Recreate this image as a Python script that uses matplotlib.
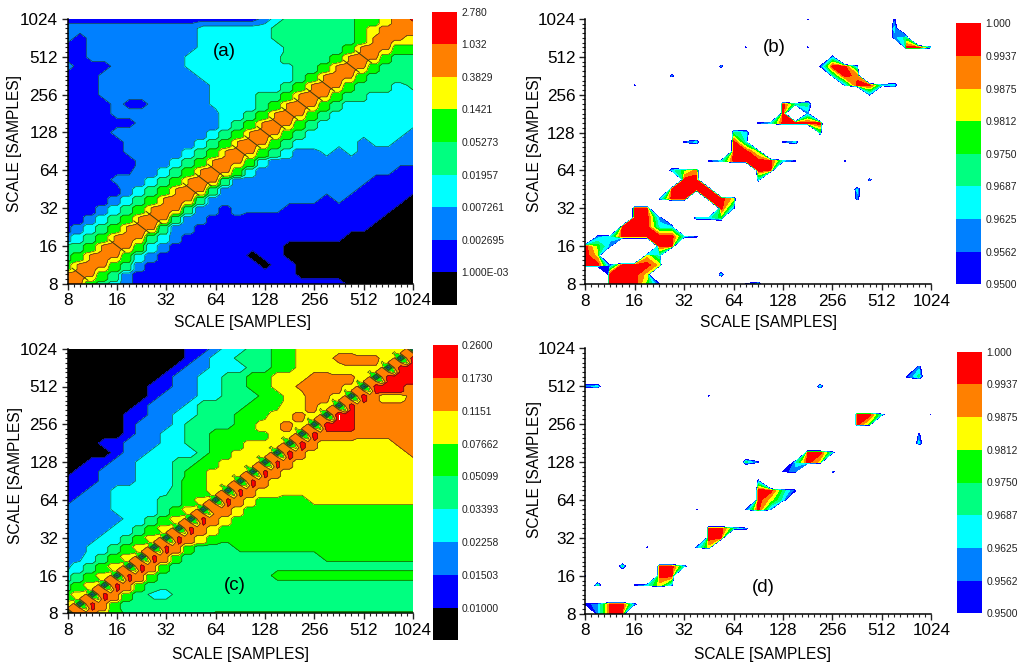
#!/usr/bin/env python3
"""Four scale-scale contour panels, (a) and (c) with level lines, (b) and (d) sparse."""
import numpy as np
import matplotlib
matplotlib.use('Agg')
import matplotlib.pyplot as plt

plt.rcParams['font.family'] = ['Liberation Sans', 'DejaVu Sans']

W, H = 1024, 672
TICKS = [8, 16, 32, 64, 128, 256, 512, 1024]
LABEL = 'SCALE [SAMPLES]'
COLORS_9 = ['#000000', '#0000FF', '#0080FF', '#00FFFF', '#00FF80',
            '#00FF00', '#FFFF00', '#FF8000', '#FF0000']
COLORS_8 = COLORS_9[1:]

A_LABELS = ['1.000E-03', '0.002695', '0.007261', '0.01957', '0.05273',
            '0.1421', '0.3829', '1.032', '2.780']
C_LABELS = ['0.01000', '0.01503', '0.02258', '0.03393', '0.05099',
            '0.07662', '0.1151', '0.1730', '0.2600']
R_LABELS = ['0.9500', '0.9562', '0.9625', '0.9687', '0.9750',
            '0.9812', '0.9875', '0.9937', '1.000']

# colour band per grid node, top row = scale 1024, left column = scale 8
A_ROWS = [
    "11111111111111112344444455678",
    "22222222222333333444444456777",
    "21222222222333333444444456766",
    "11222222222333333344444567655",
    "11222222223333333344445676544",
    "21112222223333333334456765444",
    "11122222222333333334567654444",
    "11122222222233333345676544434",
    "11122222222233334456765443333",
    "11112112222233334567654333333",
    "11112222222223345676543333333",
    "11111122222223456765433333333",
    "11112222222234567654333333332",
    "11111222222345676543333323322",
    "11111222223456765432232322222",
    "11111122234567653222222222222",
    "11111122345676532222222222211",
    "11112223456764222222222221111",
    "11111234567642222222222211111",
    "11112345676422222222212111110",
    "11123456764221222211111111100",
    "11234567642211111111111111000",
    "12345676422111111111111110000",
    "23456764321111111111111000000",
    "44567653211111111100000000000",
    "45676532111111101100000000000",
    "56765421111111110110000000000",
    "67654211111111111110000000000",
    "76543211111111111111111000000",
]
C_ROWS = [
    "00000000001123344556666666660",
    "00000000001233444556667777608",
    "00000000012233344556666666088",
    "00000000122334455666777760888",
    "00000001122334455667777608887",
    "00000001222334445566776087667",
    "00000012223444455566760877777",
    "00000112233444555667609877777",
    "00000122234444556676088877777",
    "00000122334455555660877777777",
    "00011222334455566608766666677",
    "00001223333455666087666666667",
    "00112233344556660r76666666666",
    "0112223334556660r766666666666",
    "111222333455660r7666666666666",
    "11223333345560r76666666666666",
    "1222333344560r765555666666666",
    "22223333456077655555555555555",
    "22222334560r76555555555555555",
    "2222334560r765555555555555555",
    "222334560r7655555555555555555",
    "22334560r75444555555555555555",
    "2234560r754444444444455555555",
    "234560r7544444444444444444444",
    "34560r75444444444555555555555",
    "4560r754444444444444444444444",
    "560r7543344444444444444444444",
    "60r75444444444444444444444444",
    "777654444444aaaaaaaaaaaaaaaaa",
]
# band value of each letter of the rows above
A_VALUES = {'0': 0, '1': 1, '2': 2, '3': 3, '4': 4, '5': 5, '6': 6, '7': 7, '8': 8}
C_VALUES = {'0': 0, '1': 1, '2': 2, '3': 3, '4': 4, '5': 5, '6': 6, '7': 7, '8': 8,
            '9': 8.7, 'a': 4.6, 'r': 7.8}

# (a): ridge height per grid step, and the nodes where a thin line cuts the ridge
A_RIDGE = [7, 7, 7, 7, 7, 7, 7, 7, 7, 7, 7, 7, 7, 7,
           7, 7, 7, 7, 7, 7, 7, 7, 7, 7, 7, 7, 7, 7]
A_PINCH = [1, 4, 6, 7, 10, 11, 12, 14, 15, 16, 17, 18, 19, 20, 21, 23, 24]

# lens shaped minima along the diagonal of (c), one per grid node
C_BEAD_CENTER = [0.3, 0.3, 0.3, 0.3, 0.3, 0.3, 0.3, 0.3, 0.3, 0.3, 0.3, 0.3, 0.3, 0.3, 0.3,
                 0.3, 0.3, 0.3, 0.3, 0.3, 0.3, 0.3, 0.3, 0.3, 0.3, 0.3, 0.3, 0.3, 0.3]
C_BEAD_RIM = [6.6, 6.6, 6.6, 6.6, 6.6, 6.6, 6.6, 6.6, 6.6, 6.6, 6.6, 6.6, 6.6, 6.6, 6.6,
              6.6, 6.6, 6.6, 6.6, 6.6, 6.6, 6.6, 6.6, 6.6, 6.6, 6.6, 6.6, 6.6, 6.6]
C_BEAD_TIP = [5.2, 5.2, 5.2, 5.2, 5.2, 5.2, 5.2, 5.2, 5.2, 5.2, 5.2, 5.2, 5.2, 5.2, 5.2,
              5.2, 5.2, 5.2, 5.2, 5.2, 5.2, 5.2, 5.2, 5.2, 5.2, 5.2, 5.2, 5.2, 5.2]

# (b), (d): row -> {column: band}; anything not listed is far below 0.95
BELOW = -40
SOFT_BELOW = -10
B_CELLS = {
    28: {18: 1, 25: 1},
    27: {25: 3},
    26: {25: 2, 26: 4},
    25: {13: 1, 18: 1, 26: 8, 27: 8, 28: 3},
    24: {20: 2},
    23: {11: 2, 19: 1, 20: 8, 21: 8, 22: 2},
    22: {7: 2, 20: 3, 21: 8, 22: 7},
    21: {4: 1, 21: 2, 22: 8, 23: 8, 24: 3, 25: 3},
    20: {23: 2},
    19: {16: 8, 17: 4, 18: 4},
    18: {16: 8, 18: 2},
    17: {14: 1, 15: 3, 16: 8, 17: 8, 18: 8, 19: 8},
    16: {12: 4, 13: 3, 19: 4},
    15: {8: 1, 9: 3, 12: 8, 13: 3, 16: 1, 17: 3},
    14: {12: 8, 13: 8, 14: 5},
    13: {10: 1, 11: 3, 12: 8, 13: 8, 14: 8, 15: 8, 16: 3, 17: 1, 21: 1},
    12: {7: 3, 8: 5, 9: 7, 14: 8, 15: 8},
    11: {8: 8, 9: 8, 14: 3, 23: 2},
    10: {7: 8, 8: 8, 9: 8, 10: 8, 22: 3},
    9: {6: 2, 7: 8, 8: 8, 10: 8, 11: 8, 12: 6, 22: 2},
    8: {4: 8, 5: 8, 11: 8, 12: 2},
    7: {4: 8, 5: 8, 6: 2, 9: 3, 10: 3, 11: 5},
    6: {3: 8, 4: 8, 5: 8, 6: 3, 7: 3},
    5: {1: 2, 2: 3, 3: 8, 4: 8, 5: 8, 6: 8, 7: 8, 8: 3, 9: 1},
    4: {0: 8, 1: 5, 2: 2, 6: 8, 7: 8},
    3: {0: 8, 1: 6, 5: 6, 6: 3},
    2: {0: 8, 1: 8, 2: 1, 3: 8, 4: 8, 5: 8, 6: 6},
    1: {2: 8, 3: 8, 4: 8, 5: 6, 11: 3},
    0: {2: 8, 3: 8, 4: 8, 5: 5, 6: 1, 13: 1, 14: 3},
}
D_CELLS = {
    26: {27: 2},
    25: {26: 1, 27: 4},
    24: {0: 2, 1: 3, 19: 3},
    23: {10: 1},
    21: {22: 8, 23: 8, 24: 3, 28: 1},
    20: {22: 8, 23: 5},
    19: {27: 1},
    18: {27: 3},
    17: {18: 8, 19: 8, 20: 3},
    16: {13: 4, 14: 1, 17: 3, 18: 8, 19: 6},
    15: {16: 1, 17: 2, 20: 2},
    14: {14: 2},
    13: {14: 8, 15: 8, 16: 4, 17: 1},
    12: {14: 8, 15: 6, 16: 3},
    11: {9: 1, 13: 1, 14: 8, 15: 2},
    9: {10: 8, 11: 8, 12: 4, 13: 2},
    8: {10: 8, 11: 8},
    7: {5: 1, 9: 2, 10: 6},
    5: {3: 4, 6: 8, 7: 8, 8: 3},
    4: {0: 1, 6: 8, 7: 8},
    3: {1: 4, 4: 1, 5: 3, 6: 6, 7: 2},
    1: {0: 1, 1: 2, 2: 8, 3: 8, 4: 2},
    0: {1: 2, 2: 8, 3: 8},
}


def px_axes(x0, y0, x1, y1):
    """Axes from pixel box, y counted from the top."""
    return fig.add_axes([x0 / W, 1 - y1 / H, (x1 - x0) / W, (y1 - y0) / H])


def from_rows(rows, values):
    return np.array([[values[c] for c in r] for r in rows[::-1]], dtype=float)


def from_cells(cells):
    z = np.full((29, 29), float(BELOW))
    around = [(1, 0), (-1, 0), (0, 1), (0, -1)]
    for j, row in cells.items():
        for i, v in row.items():
            if v > 5:
                continue
            for dj, di in around:
                jj, ii = j + dj, i + di
                if not (0 <= jj < 29 and 0 <= ii < 29):
                    continue
                # next to a strong cell the fall stays steep
                strong = any(cells.get(jj + a, {}).get(ii + b, 0) > 5
                             for a in (-1, 0, 1) for b in (-1, 0, 1))
                if not strong:
                    z[jj, ii] = SOFT_BELOW
    for j, row in cells.items():
        for i, v in row.items():
            z[j, i] = v
    return z


def refine(z, stair_band):
    """Twice the grid: averaged midpoints, but blocky within stair_band of the diagonal."""
    n = z.shape[0]
    f = np.zeros((2 * n - 1, 2 * n - 1))
    f[::2, ::2] = z
    f[1::2, ::2] = (z[:-1] + z[1:]) / 2
    f[::2, 1::2] = (z[:, :-1] + z[:, 1:]) / 2
    f[1::2, 1::2] = (z[:-1, :-1] + z[1:, :-1] + z[:-1, 1:] + z[1:, 1:]) / 4
    for m in range(2 * n - 1):
        for k in range(2 * n - 1):
            j, i = (m + 1) // 2, (k + 1) // 2
            if abs(i - j) <= stair_band:
                f[m, k] = z[j, i]
    return f


def put(f, m, k, v):
    if 0 <= m < f.shape[0] and 0 <= k < f.shape[1]:
        f[m, k] = v


def add_ridge(f):
    for b, peak in enumerate(A_RIDGE):
        c = 2 * b + 1
        for dm, dk in [(0, 0), (1, 0), (-1, 0), (0, 1), (0, -1), (1, -1), (-1, 1), (-1, -1)]:
            put(f, c + dm, c + dk, peak)
    return f


def add_beads(f):
    for b in range(29):
        c = 2 * b
        rim, tip = C_BEAD_RIM[b], C_BEAD_TIP[b]
        for dm, dk, v in [(0, 0, C_BEAD_CENTER[b]),
                          (1, 1, rim), (-1, -1, rim), (1, 0, rim), (-1, 0, rim),
                          (0, 1, rim), (0, -1, rim), (1, -1, tip), (-1, 1, tip)]:
            put(f, c + dm, c + dk, v)
    return f


def draw_panel(box, cbox, z, levels, colors, labels, lines, tag, tag_xy, xl_xy, yl_xy, cuts=()):
    ax = px_axes(*box)
    n = z.shape[0]
    s = 8 * 2.0 ** (np.arange(n) * 7.0 / (n - 1))
    cs = ax.contourf(s, s, z, levels=levels, colors=colors)
    if lines:
        ax.contour(s, s, z, levels=levels[1:-1], colors='#1a2a1a', linewidths=0.4)
    for b in cuts:
        # thin line across the ridge at grid node b
        lo = 8 * 2.0 ** (b / 4 - 0.16)
        hi = 8 * 2.0 ** (b / 4 + 0.16)
        ax.plot([lo, hi], [hi, lo], color='#3a3a10', lw=0.7)
    ax.set_xscale('log', base=2)
    ax.set_yscale('log', base=2)
    ax.set_xlim(8, 1024)
    ax.set_ylim(8, 1024)
    minor = [8 * 2 ** (k / 8) for k in range(57) if k % 8]
    for axis in (ax.xaxis, ax.yaxis):
        axis.set_ticks(TICKS)
        axis.set_ticklabels([str(t) for t in TICKS])
        axis.set_ticks(minor, minor=True)
        axis.set_ticklabels([], minor=True)
    ax.tick_params(which='major', length=4.5, width=1, labelsize=12.3, pad=2.5, color='#222222')
    ax.tick_params(which='minor', length=2.5, width=0.8, color='#222222')
    ax.spines['top'].set_visible(False)
    ax.spines['right'].set_visible(False)
    ax.spines['left'].set_linewidth(1.1)
    ax.spines['bottom'].set_linewidth(1.1)
    ax.spines['left'].set_zorder(5)
    ax.spines['bottom'].set_zorder(5)

    cax = px_axes(*cbox)
    cb = fig.colorbar(cs, cax=cax)
    cb.outline.set_visible(False)
    cb.set_ticks(levels[-len(labels):])
    cb.set_ticklabels(labels)
    cb.minorticks_off()
    cax.tick_params(length=0, labelsize=7.4, pad=3, labelcolor='#222222')

    fig.text(tag_xy[0] / W, 1 - tag_xy[1] / H, tag, fontsize=13.5, ha='center', va='center')
    fig.text(xl_xy[0] / W, 1 - xl_xy[1] / H, LABEL, fontsize=11.2, ha='center', va='center')
    fig.text(yl_xy[0] / W, 1 - yl_xy[1] / H, LABEL, fontsize=11.2, ha='center', va='center',
             rotation=90)


fig = plt.figure(figsize=(W / 100, H / 100), dpi=100)

levels_9 = [-1, 0.5, 1.5, 2.5, 3.5, 4.5, 5.5, 6.5, 7.5, 8.5]
levels_8 = levels_9[1:]

draw_panel((67.7, 19, 413, 283.7), (432, 11.7, 457, 305),
           add_ridge(refine(from_rows(A_ROWS, A_VALUES), 6)), levels_9, COLORS_9, A_LABELS, True,
           '(a)', (224, 52), (242, 323), (15, 143), cuts=A_PINCH)
draw_panel((585.3, 19, 931.3, 284), (956.3, 23.3, 981, 284.3),
           from_cells(B_CELLS), levels_8, COLORS_8, R_LABELS, False,
           '(b)', (774.7, 48), (768.7, 323), (534.7, 143))
draw_panel((67.7, 348.7, 413, 613.3), (433.3, 345.3, 457.7, 640.3),
           add_beads(refine(from_rows(C_ROWS, C_VALUES), 4)), levels_9, COLORS_9, C_LABELS, True,
           '(c)', (235, 585), (240.7, 655), (16, 475))
draw_panel((585.3, 348.3, 931.3, 613.7), (957.3, 351.7, 982, 613.3),
           from_cells(D_CELLS), levels_8, COLORS_8, R_LABELS, False,
           '(d)', (763.7, 587.7), (762.7, 655), (534.7, 469))

fig.savefig('out.png', dpi=100)
